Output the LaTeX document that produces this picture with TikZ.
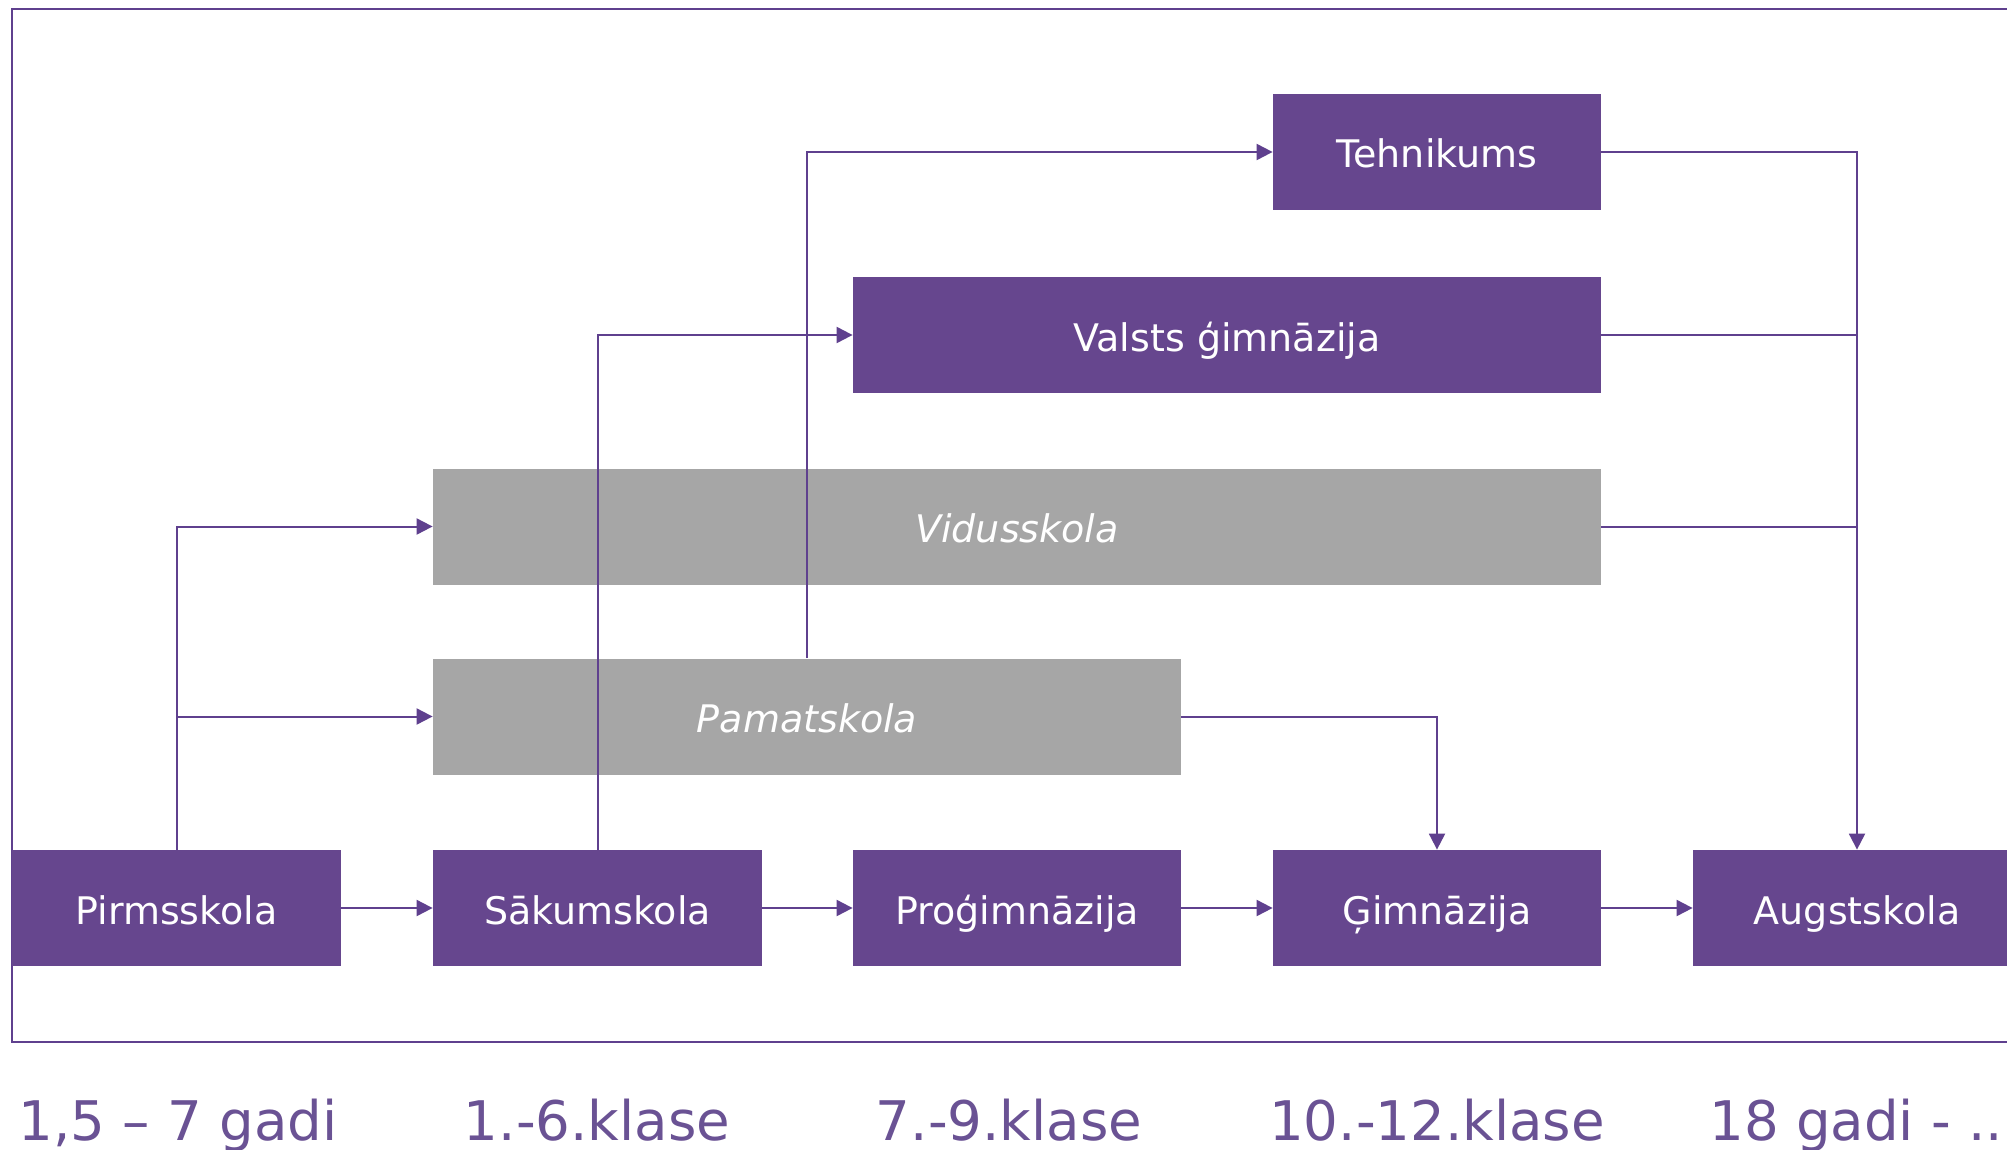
\documentclass[tikz,border=0pt]{standalone}
\usepackage{fontspec}
\setmainfont{DejaVu Sans}
\usetikzlibrary{arrows.meta}
\definecolor{purp}{HTML}{66468E}
\definecolor{lineP}{HTML}{5F408E}
\definecolor{labP}{HTML}{6A5294}
\definecolor{greyB}{HTML}{A6A6A6}
\tikzset{
  basebox/.style={draw=none, inner sep=0pt, minimum height=58pt, text height=16pt, text depth=0pt, text=white},
  pbox/.style={basebox, fill=purp, font=\fontsize{19}{22}\selectfont},
  gbox/.style={basebox, fill=greyB, font=\fontsize{19}{22}\selectfont\itshape},
  conn/.style={draw=lineP, line width=1pt, -{Triangle[length=8pt,width=8pt]}},
  plain/.style={draw=lineP, line width=1pt},
  lab/.style={text=labP, font=\fontsize{27.3}{32}\selectfont, inner sep=0pt}
}
\begin{document}
\begin{tikzpicture}[x=0.5pt,y=-0.5pt]
\useasboundingbox (0,0) rectangle (2007,1150);
\clip (0,0) rectangle (2007,1150);
\fill[white] (0,0) rectangle (2007,1150);
\draw[lineP, line width=1pt] (2100,9) -- (12,9) -- (12,1042) -- (2100,1042);
% nodes
\node[pbox, minimum width=164.5pt] (pirm) at (176.5,908) {Pirmsskola};
\node[pbox, minimum width=164.5pt] (sak) at (597.5,908) {Sākumskola};
\node[pbox, minimum width=164pt] (prog) at (1017,908) {Proģimnāzija};
\node[pbox, minimum width=164pt] (gim) at (1437,908) {Ģimnāzija};
\node[pbox, minimum width=164pt] (aug) at (1857,908) {Augstskola};
\node[pbox, minimum width=164pt] (teh) at (1437,152) {Tehnikums};
\node[pbox, minimum width=374pt] (valsts) at (1227,335) {Valsts ģimnāzija};
\node[gbox, minimum width=584pt] (vidus) at (1017,526.5) {Vidusskola};
\node[gbox, minimum width=374pt] (pamat) at (807,716.5) {Pamatskola};
% connectors
\draw[conn] (pirm.east) -- (sak.west);
\draw[conn] (sak.east) -- (prog.west);
\draw[conn] (prog.east) -- (gim.west);
\draw[conn] (gim.east) -- (aug.west);
\draw[conn] (pirm.north) |- (vidus.west);
\draw[conn] (pirm.north |- pamat.west) -- (pamat.west);
\draw[conn] (sak.north) |- (valsts.west);
\draw[conn] (pamat.north) |- (teh.west);
\draw[conn] (pamat.east) -| (gim.north);
\draw[conn] (teh.east) -| (aug.north);
\draw[plain] (valsts.east) -- (valsts.east -| aug.north);
\draw[plain] (vidus.east) -- (vidus.east -| aug.north);
% bottom labels
\node[lab, anchor=base] (l1) at (178,1140) {1,5 – 7 gadi};
\node[lab, anchor=base] (l2) at (597,1140) {1.-6.klase};
\node[lab, anchor=base] (l3) at (1009,1140) {7.-9.klase};
\node[lab, anchor=base] (l4) at (1437,1140) {10.-12.klase};
\node[lab, anchor=base west] (l5) at (1709,1140) {18 gadi - ...};
\end{tikzpicture}
\end{document}
